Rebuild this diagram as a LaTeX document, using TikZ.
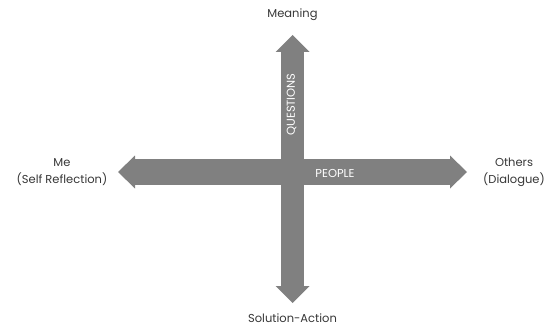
\documentclass[tikz,border=0pt]{standalone}
\usepackage{fontspec}
\setmainfont{Poppins}
\usetikzlibrary{arrows.meta}
\definecolor{axisgray}{RGB}{128,128,128}
\definecolor{labelgray}{RGB}{55,55,55}

\begin{document}
\begin{tikzpicture}[x=1pt,y=-1pt,
  axis/.style={draw=axisgray, line width=#1},
  pole/.style={font=\fontsize{11.5}{17}\selectfont, text=labelgray, align=center},
  tag/.style={font=\fontsize{11.5}{13}\selectfont, text=white}]
\useasboundingbox (0,0) rectangle (551,329);

% end points of the two axes
\coordinate (west) at (118,172);
\coordinate (east) at (467,172);
\coordinate (north) at (292.5,35);
\coordinate (south) at (292.5,303);

% labels
\node[pole] (meaning) at (292.5,15) {Meaning};
\node[pole] (action) at (292.5,318) {Solution-Action};
\node[pole] (me) at (62,172) {Me\\(Self Reflection)};
\node[pole] (others) at (514,172) {Others\\(Dialogue)};

% axes
\draw[axis=26pt, {Triangle[width=33pt,length=17pt,line width=0pt]}-{Triangle[width=33pt,length=17pt,line width=0pt]}] (west) -- (east);
\draw[axis=23pt, {Triangle[width=34pt,length=17pt,line width=0pt]}-{Triangle[width=34pt,length=17pt,line width=0pt]}] (north) -- (south);

\node[tag] (people) at (335,173) {PEOPLE};
\node[tag, rotate=90] (questions) at (291.5,104.5) {QUESTIONS};
\end{tikzpicture}
\end{document}
